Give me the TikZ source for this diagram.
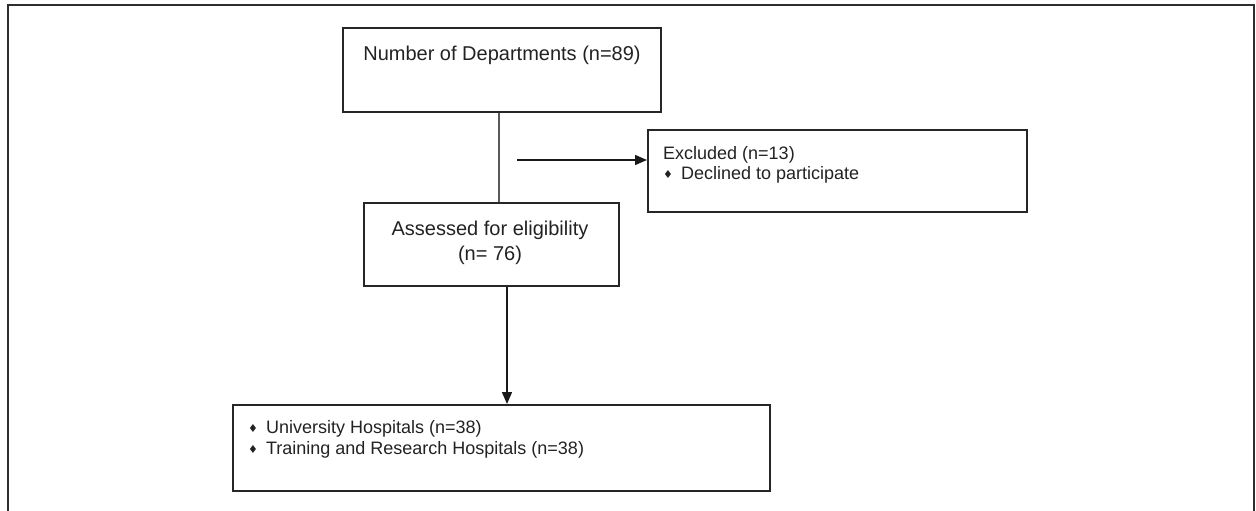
\documentclass[tikz,border=0pt]{standalone}
\usepackage{fontspec}
\setmainfont{Liberation Sans}
\newfontfamily\dvfont{DejaVu Sans}
\usetikzlibrary{arrows.meta}
\newcommand{\dmd}{\raisebox{1pt}{\dvfont\fontsize{11}{11}\selectfont ♦}}
\definecolor{txt}{HTML}{222222}
\definecolor{frame}{HTML}{2E2E2E}
\tikzset{
  box/.style={draw=black!85, line width=1.6pt, rectangle, anchor=north west, inner sep=0pt},
  bigtxt/.style={text=txt, font=\fontsize{20}{25}\selectfont, align=center, inner sep=0pt},
  smalltxt/.style={text=txt, font=\fontsize{18}{20.7}\selectfont, align=left, inner sep=0pt, anchor=west},
  conn/.style={line width=1.5pt, draw=black!90},
  arr/.style={conn, -{Triangle[length=12pt,width=10pt]}},
}
\begin{document}
\begin{tikzpicture}[x=1pt,y=-1pt]
\useasboundingbox (0,0) rectangle (1256,511);
% outer frame (bottom open)
\draw[frame, line width=2.4pt] (8,511) -- (8,5) -- (1254,5) -- (1254,511);
% boxes
\node[box, minimum width=318pt, minimum height=84pt] (top) at (342,27) {};
\node[box, minimum width=255pt, minimum height=83pt] (assess) at (363,202) {};
\node[box, minimum width=379pt, minimum height=82pt] (excl) at (647,129) {};
\node[box, minimum width=537pt, minimum height=86pt] (final) at (232,404) {};
% texts
\node[bigtxt] (ttop) at (502,55) {Number of Departments (n=89)};
\node[bigtxt] (tassess) at (490,242.5) {Assessed for eligibility\\(n= 76)};
\node[smalltxt] (texcl1) at (663,155) {Excluded (n=13)};
\node[smalltxt] (texcl2) at (663,175) {\dmd\hspace{8pt}Declined to participate};
\node[smalltxt] (tfin1) at (248,429) {\dmd\hspace{8pt}University Hospitals (n=38)};
\node[smalltxt] (tfin2) at (248,450) {\dmd\hspace{8pt}Training and Research Hospitals (n=38)};
% connectors
\coordinate (vx) at (499,0);
\coordinate (dx) at (507,0);
\coordinate (astart) at (517,160);
\draw[line width=1.1pt, draw=black!65] (top.south -| vx) -- (assess.north -| vx);
\draw[arr] (astart) -- (astart -| excl.west);
\draw[arr] (assess.south -| dx) -- (final.north -| dx);
\end{tikzpicture}
\end{document}
